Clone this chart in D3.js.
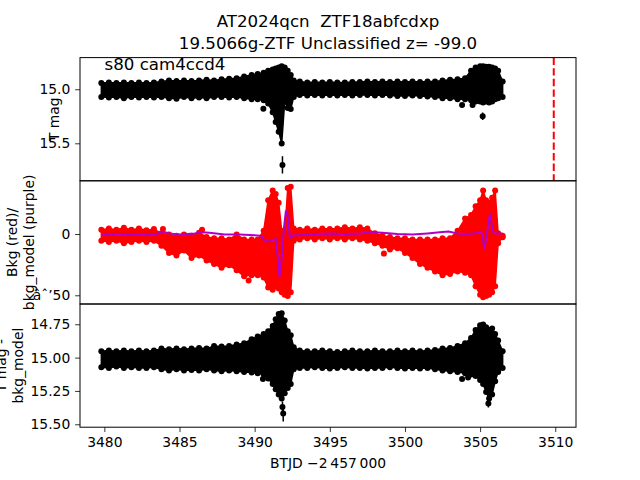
<!DOCTYPE html>
<html>
	<head>
		<title>AT2024qcn</title>
		<script src="https://cdn.jsdelivr.net/npm/d3@7"></script>
		<style type="text/css">
			body { margin: 0; background: #fff; }
			text { font-family: "DejaVu Sans", sans-serif; }
		</style>
	</head>
	<body>
		<script type="text/javascript">
			// sample times (BTJD - 2457000) where the blob edges were read
			var times = [3479.8, 3480.3, 3480.8, 3481.3, 3481.8, 3482.3, 3482.8, 3483.3, 3483.8, 3484.3,
				3484.8, 3485.3, 3485.8, 3486.3, 3486.8, 3487.3, 3487.8, 3488.3, 3488.8, 3489.3,
				3489.8, 3490.2, 3490.6, 3490.9, 3491.2, 3491.4, 3491.6, 3491.8, 3492.0, 3492.2,
				3492.4, 3492.6, 3493.0, 3493.5, 3494.0, 3494.5, 3495.0, 3495.5, 3496.0, 3496.5,
				3497.0, 3497.5, 3498.0, 3498.5, 3499.0, 3499.5, 3500.0, 3500.5, 3501.0, 3501.5,
				3502.0, 3502.5, 3503.0, 3503.5, 3504.0, 3504.4, 3504.7, 3505.0, 3505.2, 3505.4,
				3505.6, 3505.8, 3506.0, 3506.2, 3506.5];

			// panel 1: T mag, upper (bright) and lower (faint) edge of the points
			var tmagHi = [14.915, 14.91, 14.915, 14.91, 14.915, 14.91, 14.915, 14.91, 14.90, 14.89,
				14.895, 14.89, 14.895, 14.89, 14.885, 14.89, 14.88, 14.875, 14.87, 14.855,
				14.84, 14.83, 14.82, 14.80, 14.79, 14.78, 14.77, 14.76, 14.77, 14.80,
				14.84, 14.89, 14.90, 14.91, 14.905, 14.91, 14.905, 14.91, 14.91, 14.905,
				14.905, 14.90, 14.905, 14.90, 14.905, 14.90, 14.905, 14.90, 14.905, 14.90,
				14.90, 14.89, 14.885, 14.88, 14.87, 14.80, 14.77, 14.76, 14.76, 14.765,
				14.765, 14.77, 14.78, 14.80, 14.90];
			var tmagLo = [15.10, 15.105, 15.10, 15.11, 15.10, 15.105, 15.10, 15.105, 15.10, 15.11,
				15.115, 15.10, 15.11, 15.105, 15.11, 15.10, 15.10, 15.105, 15.10, 15.11,
				15.12, 15.12, 15.13, 15.16, 15.24, 15.33, 15.42, 15.53, 15.14, 15.20,
				15.21, 15.10, 15.08, 15.085, 15.08, 15.085, 15.08, 15.085, 15.08, 15.085,
				15.08, 15.08, 15.085, 15.08, 15.085, 15.09, 15.09, 15.085, 15.09, 15.095,
				15.10, 15.11, 15.11, 15.12, 15.12, 15.13, 15.14, 15.14, 15.15, 15.14,
				15.15, 15.14, 15.12, 15.11, 15.10];
			// isolated points: [time, mag, error]
			var tmagOut = [[3490.58, 15.18, 0.02], [3491.85, 15.70, 0.08], [3503.8, 15.145, 0.015],
				[3504.5, 15.145, 0.015], [3505.17, 15.25, 0.035]];

			// panel 2: background flux edges
			var bkgHi = [6, 7, 6, 7.5, 6, 7, 5.5, 6.5, 3, 2,
				1, 2, 1, 3.5, 0, -1, -1, -2, 2, -2,
				-2, -2, 5, 30, 38, 35, 28, 5, 3, 40,
				41, 7, 6, 7, 6, 7, 6.5, 7, 8, 7,
				8, 7, 3, 1, 0, -1, -1, -2, -2, -2,
				-2, -1, -1, 5, 15, 18, 25, 30, 38, 30,
				28, 32, 38, 3, 1];
			var bkgLo = [-8, -9, -8, -10, -9, -8, -9, -8, -12, -18,
				-20, -16, -22, -20, -24, -27, -30, -28, -32, -37,
				-36, -36, -38, -46, -48, -45, -47, -50, -52, -53,
				-50, -8, -7, -6, -7, -6, -7, -6, -7, -6,
				-7, -8, -10, -12, -15, -14, -18, -22, -27, -30,
				-33, -36, -35, -33, -34, -36, -45, -52, -54, -53,
				-52, -50, -45, -10, -5];
			var bkgOut = [[3486.5, 3.5], [3489.6, -38], [3483.9, 4], [3498.6, -16]];

			// background model (purple line)
			var modelT = [3479.8, 3480.5, 3481.5, 3482.5, 3483.5, 3483.9, 3484.3, 3485.0, 3486.0, 3486.5,
				3487.0, 3488.0, 3489.0, 3490.0, 3490.5, 3490.65, 3490.9, 3491.2, 3491.4, 3491.55,
				3491.65, 3491.8, 3491.95, 3492.08, 3492.2, 3492.35, 3492.6, 3493.0, 3494.0, 3495.0,
				3496.0, 3497.0, 3497.8, 3498.5, 3499.5, 3500.5, 3501.5, 3502.3, 3502.9, 3503.5,
				3504.0, 3504.6, 3505.0, 3505.15, 3505.28, 3505.45, 3505.66, 3505.8, 3505.9, 3506.1, 3506.5];
			var modelV = [0, 0, 0, -0.3, 0, 2, 0.5, -0.5, 0.5, 1.5,
				1, -0.5, -0.5, -1, -1.5, -6, -6, -5, -4, -20,
				-35, -20, 5, 19, 15, -3, -1, -1, 0, 0.5,
				0, 0.5, 1.5, 1, 0, -0.5, 0.5, 1.5, 2, 0.5,
				0, 0.5, 2, 0, -13, 0, 17, 5, 0.8, 0.5, 0.5];

			// panel 3: T mag - bkg_model edges
			var mag2Hi = [14.93, 14.925, 14.93, 14.925, 14.93, 14.925, 14.93, 14.925, 14.91, 14.915,
				14.91, 14.915, 14.91, 14.905, 14.91, 14.89, 14.895, 14.89, 14.88, 14.87,
				14.84, 14.82, 14.80, 14.78, 14.74, 14.69, 14.65, 14.645, 14.70, 14.78,
				14.81, 14.90, 14.925, 14.93, 14.93, 14.925, 14.93, 14.935, 14.93, 14.925,
				14.93, 14.93, 14.925, 14.93, 14.93, 14.925, 14.93, 14.925, 14.93, 14.925,
				14.92, 14.91, 14.905, 14.89, 14.87, 14.83, 14.77, 14.735, 14.73, 14.75,
				14.77, 14.76, 14.80, 14.85, 14.93];
			var mag2Lo = [15.095, 15.10, 15.09, 15.10, 15.095, 15.10, 15.10, 15.095, 15.11, 15.12,
				15.11, 15.12, 15.115, 15.12, 15.11, 15.12, 15.125, 15.12, 15.125, 15.13,
				15.135, 15.14, 15.15, 15.18, 15.22, 15.26, 15.30, 15.33, 15.29, 15.25,
				15.22, 15.11, 15.10, 15.10, 15.095, 15.10, 15.105, 15.10, 15.095, 15.10,
				15.10, 15.105, 15.10, 15.10, 15.095, 15.10, 15.105, 15.10, 15.105, 15.10,
				15.11, 15.12, 15.125, 15.13, 15.14, 15.15, 15.16, 15.19, 15.22, 15.28,
				15.33, 15.30, 15.20, 15.13, 15.10];
			var mag2Out = [[3490.55, 15.16, 0.015], [3491.9, 15.42, 0.06], [3491.85, 15.37, 0.04],
				[3503.8, 15.16, 0.015], [3504.2, 15.15, 0.015], [3505.55, 15.345, 0.03]];

			var discovery = 3509.9;
			var xTicks = [3480, 3485, 3490, 3495, 3500, 3505, 3510];

			var w = 640;
			var h = 480;
			var padL = 80, padR = 576, padT = 57.6, padB = 427.2;
			var ph = (padB - padT) / 3;
			var tick = 4.86;
			var fs = 13.89;

			var svg = d3.select("body")
				.append("svg")
					.attr("width", w)
					.attr("height", h);

			svg.append("rect")
				.attr("width", w)
				.attr("height", h)
				.attr("fill", "#fff");

			var x = d3.scaleLinear().domain([3478.38, 3511.38]).range([padL, padR]);
			var y1 = d3.scaleLinear().domain([14.707, 15.847]).range([padT, padT + ph]);
			var y2 = d3.scaleLinear().domain([43.4, -57.1]).range([padT + ph, padT + 2 * ph]);
			var y3 = d3.scaleLinear().domain([14.598, 15.522]).range([padT + 2 * ph, padB]);

			var panels = [0, 1, 2].map(function (i) {
				var y0 = padT + i * ph;
				svg.append("clipPath")
					.attr("id", "clip" + i)
				  .append("rect")
					.attr("x", padL)
					.attr("y", y0)
					.attr("width", padR - padL)
					.attr("height", ph);
				return svg.append("g").attr("clip-path", "url(#clip" + i + ")");
			});

			var band = function (g, y, hi, lo, color, r) {
				var rows = times.map(function (t, i) {
					return {t: t, hi: hi[i], lo: lo[i]};
				});
				var area = d3.area()
					.x(function (d) { return x(d.t); })
					.y0(function (d) { return y(d.lo) - r; })
					.y1(function (d) { return y(d.hi) + r; });
				g.append("path")
					.datum(rows)
					.attr("d", area)
					.attr("fill", color)
					.attr("stroke", color)
					.attr("stroke-width", 1.5)
					.attr("stroke-linejoin", "round");
				g.selectAll(null)
					.data(rows)
					.enter().append("circle")
					.attr("cx", function (d) { return x(d.t); })
					.attr("cy", function (d) { return y(d.hi) + r; })
					.attr("r", r)
					.attr("fill", color);
				g.selectAll(null)
					.data(rows)
					.enter().append("circle")
					.attr("cx", function (d) { return x(d.t); })
					.attr("cy", function (d) { return y(d.lo) - r; })
					.attr("r", r)
					.attr("fill", color);
			};

			var outliers = function (g, y, pts, color) {
				g.selectAll(null)
					.data(pts)
					.enter().append("line")
					.attr("x1", function (d) { return x(d[0]); })
					.attr("x2", function (d) { return x(d[0]); })
					.attr("y1", function (d) { return y(d[1] - d[2]); })
					.attr("y2", function (d) { return y(d[1] + d[2]); })
					.attr("stroke", color)
					.attr("stroke-width", 1.5);
				g.selectAll(null)
					.data(pts)
					.enter().append("circle")
					.attr("cx", function (d) { return x(d[0]); })
					.attr("cy", function (d) { return y(d[1]); })
					.attr("r", 3)
					.attr("fill", color);
			};

			// panel 1
			band(panels[0], y1, tmagHi, tmagLo, "#000", 3);
			outliers(panels[0], y1, tmagOut, "#000");
			panels[0].append("line")
				.attr("x1", x(discovery))
				.attr("x2", x(discovery))
				.attr("y1", padT)
				.attr("y2", padT + ph)
				.attr("stroke", "#ff0000")
				.attr("stroke-width", 2)
				.attr("stroke-dasharray", "7.4,3.2");

			// panel 2
			band(panels[1], y2, bkgHi, bkgLo, "#ff0000", 3);
			outliers(panels[1], y2, bkgOut.map(function (d) { return [d[0], d[1], 0]; }), "#ff0000");
			panels[1].append("path")
				.datum(modelT.map(function (t, i) { return [t, modelV[i]]; }))
				.attr("d", d3.line()
					.x(function (d) { return x(d[0]); })
					.y(function (d) { return y2(d[1]); }))
				.attr("fill", "none")
				.attr("stroke", "#b000c8")
				.attr("stroke-width", 2);

			// panel 3
			band(panels[2], y3, mag2Hi, mag2Lo, "#000", 3);
			outliers(panels[2], y3, mag2Out, "#000");

			// axes
			var styleAxis = function (g) {
				g.select(".domain").remove();
				g.selectAll(".tick line").attr("stroke", "#000").attr("stroke-width", 0.8);
				g.selectAll(".tick text")
					.attr("fill", "#000")
					.style("font-size", fs + "px")
					.style("font-family", "DejaVu Sans, sans-serif");
			};

			svg.append("g")
				.attr("transform", "translate(" + padL + ",0)")
				.call(d3.axisLeft(y1).tickValues([15.0, 15.5]).tickFormat(d3.format(".1f"))
					.tickSize(tick).tickPadding(tick))
				.call(styleAxis);
			svg.append("g")
				.attr("transform", "translate(" + padL + ",0)")
				.call(d3.axisLeft(y2).tickValues([0, -50]).tickFormat(d3.format("d"))
					.tickSize(tick).tickPadding(tick))
				.call(styleAxis);
			svg.append("g")
				.attr("transform", "translate(" + padL + ",0)")
				.call(d3.axisLeft(y3).tickValues([14.75, 15.0, 15.25, 15.5]).tickFormat(d3.format(".2f"))
					.tickSize(tick).tickPadding(tick))
				.call(styleAxis);
			svg.append("g")
				.attr("transform", "translate(0," + padB + ")")
				.call(d3.axisBottom(x).tickValues(xTicks).tickFormat(d3.format("d"))
					.tickSize(tick).tickPadding(tick))
				.call(styleAxis);

			// spines
			[0, 1, 2].forEach(function (i) {
				svg.append("rect")
					.attr("x", padL)
					.attr("y", padT + i * ph)
					.attr("width", padR - padL)
					.attr("height", ph)
					.attr("fill", "none")
					.attr("stroke", "#000")
					.attr("stroke-width", 1);
			});

			// text
			var label = function (str, px, py, size, anchor, rot) {
				var t = svg.append("text")
					.attr("text-anchor", anchor)
					.style("font-size", size + "px")
					.attr("fill", "#000")
					.text(str);
				if (rot) {
					t.attr("transform", "translate(" + px + "," + py + ") rotate(-90)")
						.attr("dy", "0.35em");
				} else {
					t.attr("x", px).attr("y", py);
				}
				return t;
			};

			label("AT2024qcn\u00a0\u00a0ZTF18abfcdxp", 328, 27, 16.67, "middle");
			label("19.5066g-ZTF Unclassified z= -99.0", 328, 49, 16.67, "middle");
			label("s80 cam4ccd4", 104.5, 70, 16.67, "start");
			label("T mag", 54, padT + ph / 2, fs, "middle", true);
			label("Bkg (red)/", 12, padT + 1.5 * ph, fs, "middle", true);
			label("bkg_model (purple)", 29, padT + 1.5 * ph, fs, "middle", true);
			label("T mag -", 1, padT + 2.5 * ph, fs, "middle", true);
			label("bkg_model", 18, padT + 2.5 * ph, fs, "middle", true);
			label("BTJD \u22122\u2009457\u2009000", 328, 468, fs, "middle");
		</script>
	</body>
</html>
